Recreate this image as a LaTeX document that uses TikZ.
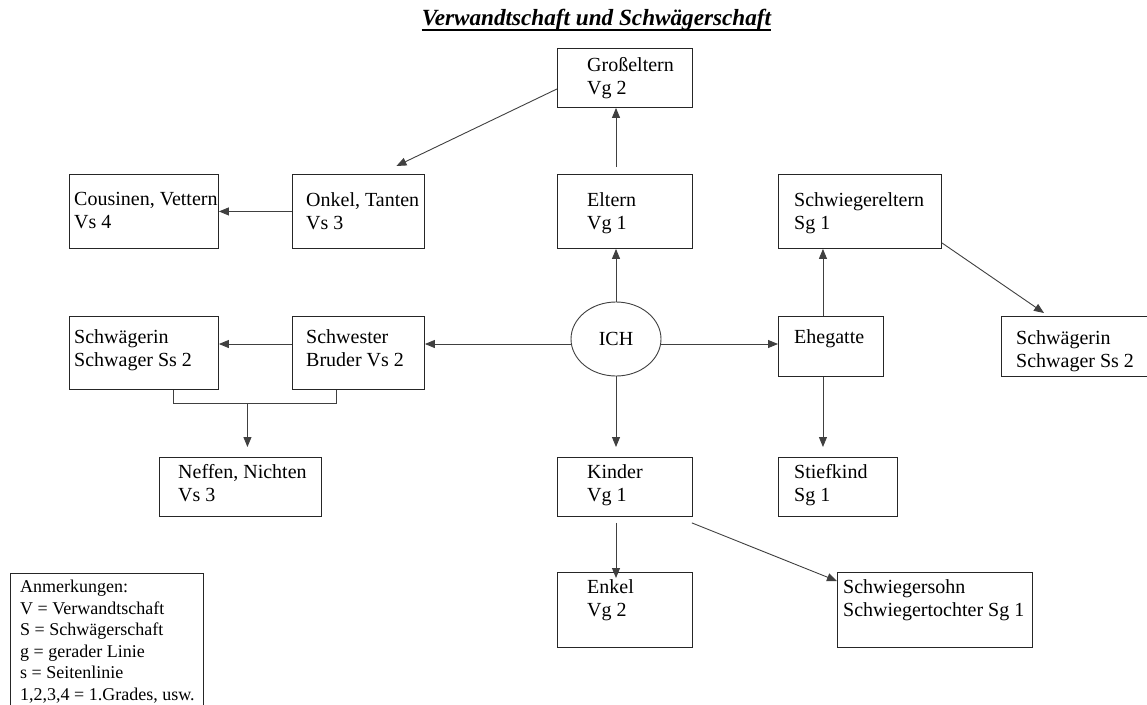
\documentclass[tikz,border=0pt]{standalone}
\usepackage{fontspec}
\setmainfont{Liberation Serif}
\usetikzlibrary{arrows.meta,calc,shapes.geometric}
\begin{document}
\begin{tikzpicture}[x=1pt,y=-1pt,
  box/.style={draw=black!85,line width=0.9pt,anchor=north west,inner sep=0pt},
  txt/.style={anchor=north west,inner sep=0pt,align=left,font=\fontsize{20}{22.7}\selectfont},
  note/.style={anchor=north west,inner sep=0pt,align=left,font=\fontsize{18}{21.6}\selectfont},
  conn/.style={draw=black!75,line width=0.9pt,-{Triangle[length=10pt,width=8pt]}},
  plain/.style={draw=black!75,line width=0.9pt}]
\useasboundingbox[fill=white] (0,0) rectangle (1147,704);

% title
\node[inner sep=0pt,anchor=base,font=\fontsize{23.2}{27}\selectfont\bfseries\itshape] (title) at (596.5,25) {Verwandtschaft und Schwägerschaft};
\draw[line width=1.6pt] (title.south west) -- (title.south east);

% boxes
\node[box,minimum width=135pt,minimum height=59pt] (gross) at (557,48) {};
\node[box,minimum width=149pt,minimum height=74pt] (cous) at (69,174) {};
\node[box,minimum width=132pt,minimum height=74pt] (onkel) at (292,174) {};
\node[box,minimum width=135pt,minimum height=74pt] (eltern) at (557,174) {};
\node[box,minimum width=163pt,minimum height=74pt] (schwel) at (778,174) {};
\node[box,minimum width=149pt,minimum height=73pt] (schwl) at (69,316) {};
\node[box,minimum width=132pt,minimum height=73pt] (schwester) at (292,316) {};
\node[box,minimum width=105pt,minimum height=60pt] (ehe) at (778,316) {};
\node[box,minimum width=146pt,minimum height=60pt] (schwr) at (1001,316) {};
\node[box,minimum width=162pt,minimum height=59pt] (neffen) at (159,457) {};
\node[box,minimum width=135pt,minimum height=59pt] (kinder) at (557,457) {};
\node[box,minimum width=119pt,minimum height=59pt] (stief) at (778,457) {};
\node[box,minimum width=135pt,minimum height=75pt] (enkel) at (557,572) {};
\node[box,minimum width=195pt,minimum height=75pt] (sohn) at (837,572) {};
\node[box,minimum width=193pt,minimum height=140pt] (anm) at (10,573) {};

% ellipse
\node[draw=black!75,line width=0.9pt,ellipse,minimum width=90pt,minimum height=74pt,inner sep=0pt,font=\fontsize{20}{22.7}\selectfont] (ich) at (616,339) {ICH};

% texts
\node[txt] (grosst) at (587,57.3) {Großeltern\\Vg 2};
\node[txt] (coust) at (74,192.3) {Cousinen, Vettern\\Vs 4};
\node[txt] (onkelt) at (306,192.3) {Onkel, Tanten\\Vs 3};
\node[txt] (elternt) at (587,192.3) {Eltern\\Vg 1};
\node[txt] (schwelt) at (794,192.3) {Schwiegereltern\\Sg 1};
\node[txt] (schwlt) at (74,329.3) {Schwägerin\\Schwager Ss 2};
\node[txt] (schwestert) at (306,329.3) {Schwester\\Bruder Vs 2};
\node[txt] (ehet) at (794,329.3) {Ehegatte};
\node[txt] (schwrt) at (1016,330.3) {Schwägerin\\Schwager Ss 2};
\node[txt] (neffent) at (178,464.3) {Neffen, Nichten\\Vs 3};
\node[txt] (kindert) at (587,464.3) {Kinder\\Vg 1};
\node[txt] (stieft) at (794,464.3) {Stiefkind\\Sg 1};
\node[txt] (enkelt) at (587,579.3) {Enkel\\Vg 2};
\node[txt] (sohnt) at (843,579.3) {Schwiegersohn\\Schwiegertochter Sg 1};
\node[note] (anmt) at (20,579.7) {Anmerkungen:\\V = Verwandtschaft\\S = Schwägerschaft\\g = gerader Linie\\s = Seitenlinie\\1,2,3,4 = 1.Grades, usw.};

% connectors
\draw[conn] ([yshift=-11pt]gross.west) -- ($(onkel.north)+(38,-8)$);
\draw[conn] (onkel.west) -- (cous.east);
\draw[conn] ($(eltern.north -| ich)+(0,-7)$) -- (gross.south -| ich);
\draw[conn] (ich.north) -- (eltern.south -| ich);
\draw[conn] (ich.south) -- ($(kinder.north -| ich)+(0,-10)$);
\draw[conn] ([yshift=-5pt]ich.west) -- ([yshift=-5pt]ich.west -| schwester.east);
\draw[conn] ([yshift=-5pt]ich.west -| schwester.west) -- ([yshift=-5pt]ich.west -| schwl.east);
\draw[conn] ([yshift=-5pt]ich.east) -- ([yshift=-5pt]ich.east -| ehe.west);
\draw[conn] ([xshift=-8pt]ehe.north) -- ([xshift=-8pt]ehe.north |- schwel.south);
\draw[conn] ([xshift=-8pt]ehe.south) -- ($([xshift=-8pt]ehe.south |- stief.north)+(0,-10)$);
\draw[conn] ([yshift=6pt]schwel.south east) -- ($(schwr.north west)+(43,-3)$);
\coordinate (bl) at ($(schwl.south)+(29.5,14)$);
\coordinate (br) at ($(schwester.south)+(-22,14)$);
\draw[plain] ($(schwl.south)+(29.5,0)$) -- (bl) -- (br) -- ($(schwester.south)+(-22,0)$);
\coordinate (bm) at ($(bl)!0.454!(br)$);
\draw[conn] (bm) -- ($(bm |- neffen.north)+(0,-10)$);
\draw[conn] ($(kinder.south -| ich)+(0,6)$) -- ($(enkel.north -| ich)+(0,6)$);
\draw[conn] ($(kinder.south east)+(-1,6)$) -- ($(sohn.north west)+(0,9)$);
\end{tikzpicture}
\end{document}
